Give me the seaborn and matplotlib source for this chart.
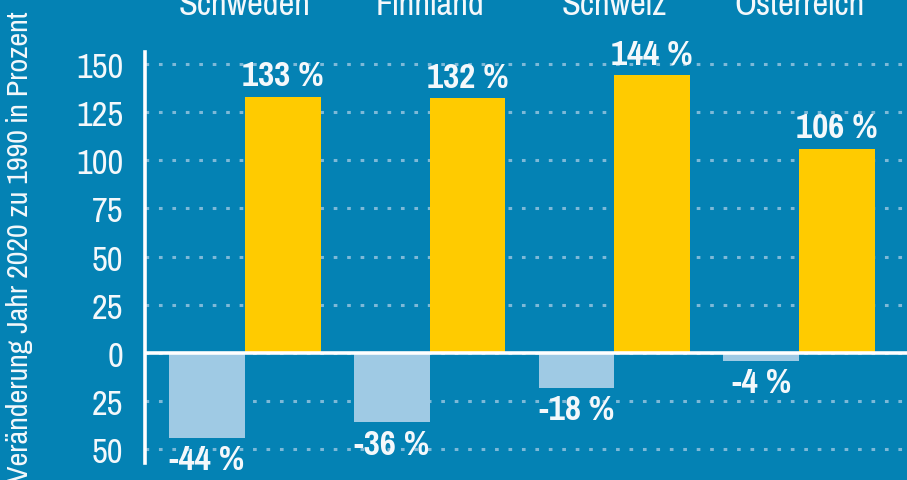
import matplotlib
matplotlib.use("Agg")
import matplotlib.pyplot as plt
import matplotlib.transforms as mtransforms
import pandas as pd
import seaborn as sns

# values (change 2020 vs 1990, in percent)
countries = ["Schweden", "Finnland", "Schweiz", "Österreich"]
series_names = ["Emissionen", "BIP"]
emissions = [-44, -36, -18, -4]
gdp = [133, 132, 144, 106]
yticks = [150, 125, 100, 75, 50, 25, 0, -25, -50]
ytick_labels = ["150", "125", "100", "75", "50", "25", "0", "25", "50"]
ylabel = "Veränderung Jahr 2020 zu 1990 in Prozent"

bg = "#0482b4"
col_light = "#9fcae4"
col_yellow = "#ffcb00"
grid_col = "#7db9d8"
txt = "#f4f8fb"

df = pd.DataFrame({
    "Land": countries * 2,
    "Reihe": [series_names[0]] * len(countries) + [series_names[1]] * len(countries),
    "Wert": emissions + gdp,
})

sns.set_style("white")
plt.rcParams['font.family'] = ['Pragati Narrow', 'Roboto Condensed', 'Liberation Sans', 'DejaVu Sans']

fig = plt.figure(figsize=(9.07, 4.81), dpi=100, facecolor=bg)
ax = fig.add_axes([145 / 907, 0, 1 - 145 / 907, 1])
ax.set_facecolor(bg)

sns.barplot(data=df, x="Land", y="Wert", hue="Reihe", hue_order=series_names,
            palette=[col_light, col_yellow], width=0.82, saturation=1,
            linewidth=0, legend=False, ax=ax, zorder=2)

ax.set_xlim(-0.541, 3.584)
ax.set_ylim(-65.9, 183.6)

# grid
ax.set_yticks(yticks)
ax.set_yticklabels(ytick_labels)
ax.yaxis.grid(True, color=grid_col, linestyle=(0, (1.2, 3.2)), linewidth=2.2)
ax.xaxis.grid(False)
ax.set_axisbelow(True)
ax.axhline(0, color="white", linewidth=2.6, zorder=3)

for s in ["top", "right", "bottom"]:
    ax.spines[s].set_visible(False)
ax.spines["left"].set_color("white")
ax.spines["left"].set_linewidth(2.6)
ax.spines["left"].set_bounds(-57, 156)
ax.spines["left"].set_zorder(4)

ax.tick_params(axis="y", length=0, pad=15.5, labelsize=27, labelcolor=txt)
ax.set_xticks([])
ax.set_xlabel("")
ax.set_ylabel("")

# category names at the top
trans = mtransforms.blended_transform_factory(ax.transData, ax.transAxes)
for i, name in enumerate(countries):
    ax.text(i, 1 - 15 / 481, name, transform=trans, ha="center", va="baseline",
            fontsize=27, color=txt)

# value labels
for cont in ax.containers:
    ax.bar_label(cont, labels=[f"{v:.0f} %" for v in cont.datavalues],
                 padding=4, color=txt, fontsize=27.5, fontweight="bold", zorder=5)

fig.text(20 / 907, 1 - 247 / 481, ylabel, rotation=90, ha="center", va="center",
         fontsize=23.6, color=txt)

fig.savefig("out.png", dpi=100, facecolor=bg)
